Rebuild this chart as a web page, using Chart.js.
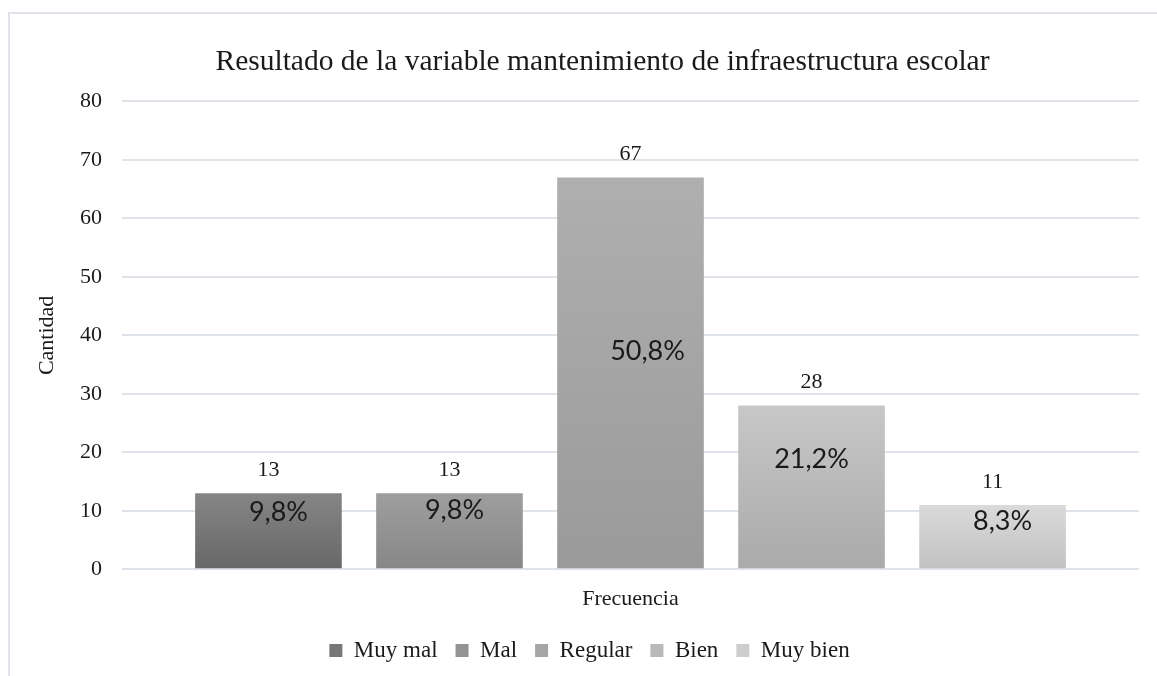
<!DOCTYPE html>
<html>
<head>
<meta charset="utf-8">
<script src="https://cdn.jsdelivr.net/npm/chart.js@4.4.0/dist/chart.umd.min.js"></script>
<style>
  html, body { margin: 0; padding: 0; background: #ffffff; }
  #wrap { position: relative; width: 1157px; height: 676px; overflow: hidden; }
  #frame { position: absolute; left: 8px; top: 12px; width: 1200px; height: 700px;
           border-top: 2px solid #e0e4ea; border-left: 2px solid #e0e4ea; }
  canvas { position: absolute; left: 0; top: 0; }
</style>
</head>
<body>
<div id="wrap">
  <div id="frame"></div>
  <canvas id="c" width="1157" height="676"></canvas>
</div>
<script>
const chartTitle = 'Resultado de la variable mantenimiento de infraestructura escolar';
const categories = ['Frecuencia'];
const seriesNames = ['Muy mal', 'Mal', 'Regular', 'Bien', 'Muy bien'];
const seriesValues = [13, 13, 67, 28, 11];
const percentLabels = ['9,8%', '9,8%', '50,8%', '21,2%', '8,3%'];
const yTicks = [0, 10, 20, 30, 40, 50, 60, 70, 80];

const topColors = ['#858585', '#9e9e9e', '#afafaf', '#c7c7c7', '#dadada'];
const bottomColors = ['#686868', '#878787', '#9a9a9a', '#aaaaaa', '#c1c1c1'];
const midColors = ['#777777', '#939393', '#a5a5a5', '#b9b9b9', '#cdcdcd'];
// percentage label offsets (px) relative to bar centre-x and bar top
const pctDx = [10, 5, 17, 0, 10];
const pctDy = [19, 17, 174, 54, 16];

const SERIF = '"Liberation Serif", "Times New Roman", serif';

function gradientFor(i) {
  return function (ctx) {
    const chart = ctx.chart;
    const area = chart.chartArea;
    const ys = chart.scales && chart.scales.y;
    if (!area || !ys || ctx.type !== 'data') return midColors[i];
    const v = ctx.raw;
    const top = ys.getPixelForValue(v);
    const bot = ys.getPixelForValue(0);
    if (!isFinite(top) || !isFinite(bot) || top === bot) return midColors[i];
    const g = chart.ctx.createLinearGradient(0, top, 0, bot);
    g.addColorStop(0, topColors[i]);
    g.addColorStop(1, bottomColors[i]);
    return g;
  };
}

const datasets = seriesNames.map((name, i) => ({
  label: name,
  data: [seriesValues[i]],
  backgroundColor: gradientFor(i),
  borderWidth: 0
}));

const labelPlugin = {
  id: 'barLabels',
  afterLayout(chart) {
    // the original chart box is wider than the picture: shift centred texts
    if (chart.titleBlock) { chart.titleBlock.left += 23; chart.titleBlock.right += 23; }
    if (chart.legend) { chart.legend.left += 10; chart.legend.right += 10; }
  },
  afterDatasetsDraw(chart) {
    const c = chart.ctx;
    c.save();
    chart.data.datasets.forEach((ds, i) => {
      const meta = chart.getDatasetMeta(i);
      meta.data.forEach((bar) => {
        c.fillStyle = '#1a1a1a';
        c.textAlign = 'center';
        c.textBaseline = 'middle';
        c.font = '22px ' + SERIF;
        c.fillText(String(ds.data[0]), bar.x, bar.y - 23);
        c.font = '27px Lato, "Open Sans", sans-serif';
        c.fillText(percentLabels[i], bar.x + pctDx[i], bar.y + pctDy[i]);
      });
    });
    c.restore();
  }
};

new Chart(document.getElementById('c'), {
  type: 'bar',
  data: { labels: categories, datasets: datasets },
  plugins: [labelPlugin],
  options: {
    responsive: false,
    animation: false,
    devicePixelRatio: 1,
    categoryPercentage: 0.89,
    barPercentage: 0.81,
    layout: { padding: { left: 20, right: 18, top: 0, bottom: 4 } },
    plugins: {
      tooltip: { enabled: false },
      title: {
        display: true,
        text: chartTitle,
        color: '#1a1a1a',
        font: { family: SERIF, size: 29.5, weight: 'normal' },
        padding: { top: 45, bottom: 21 }
      },
      legend: {
        position: 'bottom',
        labels: {
          color: '#1a1a1a',
          font: { family: SERIF, size: 23 },
          boxWidth: 13,
          boxHeight: 13,
          padding: 18,
          generateLabels(chart) {
            const items = Chart.defaults.plugins.legend.labels.generateLabels(chart);
            items.forEach((it, i) => {
              it.fillStyle = midColors[i];
              it.strokeStyle = 'rgba(0,0,0,0)';
              it.lineWidth = 0;
            });
            return items;
          }
        }
      }
    },
    scales: {
      x: {
        grid: { display: false },
        border: { display: false },
        ticks: { color: '#1a1a1a', font: { family: SERIF, size: 22, lineHeight: 0.35 }, padding: 18 }
      },
      y: {
        min: 0,
        max: 80,
        afterFit(s) { s.width = 102; },
        afterBuildTicks(s) { s.ticks = yTicks.map(v => ({ value: v })); },
        grid: { color: '#dfe3ea', lineWidth: 2, drawTicks: false },
        border: { display: false },
        ticks: { color: '#1a1a1a', font: { family: SERIF, size: 22 }, padding: 20 },
        title: {
          display: true,
          text: 'Cantidad',
          color: '#1a1a1a',
          font: { family: SERIF, size: 22 },
          padding: { top: 14, bottom: 4 }
        }
      }
    }
  }
});
</script>
</body>
</html>
